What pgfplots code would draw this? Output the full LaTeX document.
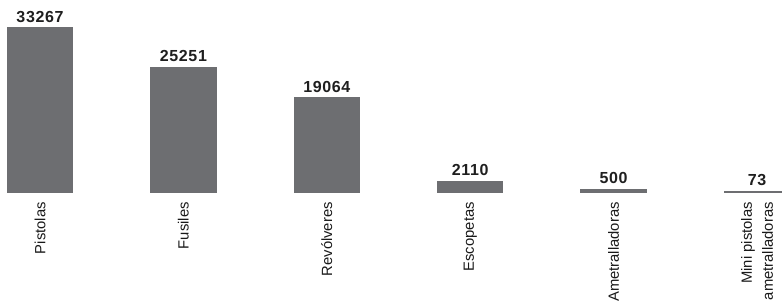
\documentclass[border=0pt]{standalone}
\usepackage{fontspec}
\setmainfont{Liberation Sans}
\newfontfamily\valfont[LetterSpace=4]{Liberation Sans}
\usepackage{pgfplots}
\pgfplotsset{compat=1.18}
\definecolor{barcol}{RGB}{109,110,113}
\begin{document}
\begin{tikzpicture}
\useasboundingbox (0,0) rectangle (782bp,306bp);
\clip (0,0) rectangle (782bp,306bp);
\begin{axis}[
  scale only axis, width=860.4bp, height=197.2bp,
  at={(-31.7bp,114bp)}, anchor=south west,
  xmin=-0.5, xmax=5.5, ymin=0, ymax=40000,
  axis line style={draw=none}, major tick length=0pt,
  ytick=\empty, xtick={0,1,2,3,4,5},
  xticklabels={Pistolas, Fusiles, Revólveres, Escopetas, Ametralladoras, {Mini pistolas\\ametralladoras}},
  xticklabel shift=10bp,
  xticklabel style={rotate=90, anchor=east, align=right, inner sep=0pt, font=\fontsize{14.8bp}{21bp}\selectfont, text=black!90},
  clip=false,
]
\addplot[ybar, bar width=65bp, fill=barcol, draw=barcol, line width=1.3bp,
  point meta=explicit symbolic, nodes near coords,
  every node near coord/.append style={font=\valfont\bfseries\fontsize{16bp}{18bp}\selectfont, text=black!88, inner sep=0pt, yshift=5bp, anchor=south}]
  table[meta=label] {
x y label
0 33267 33267
1 25251 25251
2 19064 19064
3 2110 2110
4 500 500
5 73 73
};
\end{axis}
\end{tikzpicture}
\end{document}
